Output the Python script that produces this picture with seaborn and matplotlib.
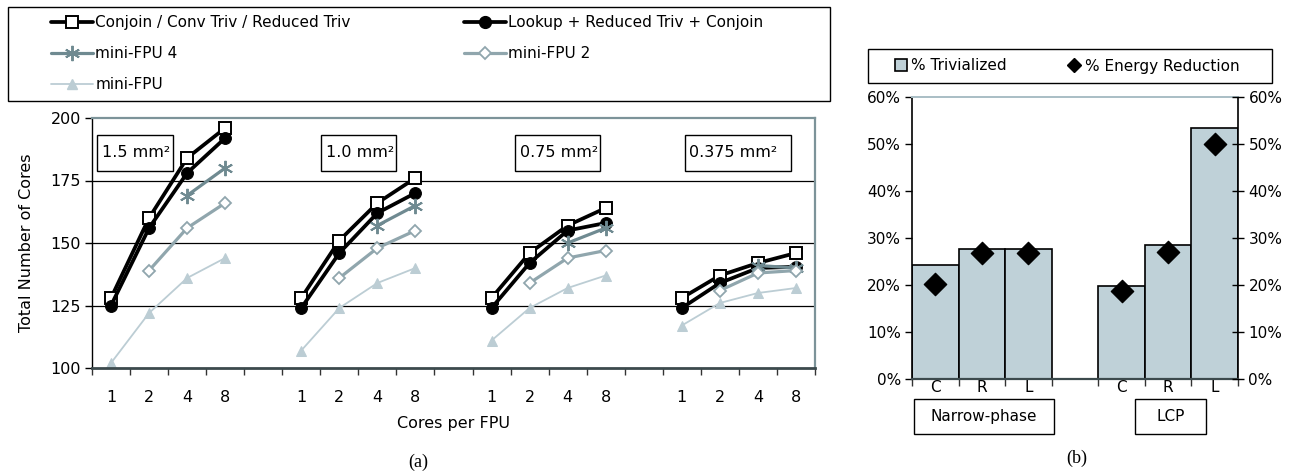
import numpy as np
import pandas as pd
import matplotlib
matplotlib.use("Agg")
import matplotlib.pyplot as plt
from matplotlib.patches import Rectangle
from matplotlib.lines import Line2D
import seaborn as sns

# ---- data: panel (a) ----
areas = ["1.5 mm²", "1.0 mm²", "0.75 mm²", "0.375 mm²"]
cores_per_fpu = ["1", "2", "4", "8"]
series_names = ["Conjoin / Conv Triv / Reduced Triv", "Lookup + Reduced Triv + Conjoin",
                "mini-FPU 4", "mini-FPU 2", "mini-FPU"]
# one row per area, values for 1,2,4,8 cores per FPU (nan = not defined)
conjoin = [[128, 160, 184, 196], [128, 151, 166, 176], [128, 146, 157, 164], [128, 137, 142, 146]]
lookup = [[125, 156, 178, 192], [124, 146, 162, 170], [124, 142, 155, 158], [124, 134, 140, 140.5]]
mini4 = [[np.nan, np.nan, 169, 180], [np.nan, np.nan, 157, 165], [np.nan, np.nan, 150, 156], [np.nan, np.nan, 141, 140]]
mini2 = [[np.nan, 139, 156, 166], [np.nan, 136, 148, 155], [np.nan, 134, 144, 147], [np.nan, 131, 138, 139]]
mini1 = [[102, 122, 136, 144], [107, 124, 134, 140], [111, 124, 132, 137], [117, 126, 130, 132]]

# ---- data: panel (b) ----
phases = ["Narrow-phase", "LCP"]
variants = ["C", "R", "L"]
trivialized = [24.3, 27.7, 27.7, 19.7, 28.6, 53.3]
energy_red = [20.2, 26.8, 26.8, 18.8, 27.1, 50.0]

sns.set_style("white")
plt.rcParams["font.family"] = ["DejaVu Sans"]
plt.rcParams.update({"text.color": "black", "axes.labelcolor": "black",
                     "xtick.color": "black", "ytick.color": "black"})

fig = plt.figure(figsize=(12.92, 4.72), dpi=100)
W, H = 1292, 472


def fig_rect(x0, y0, x1, y1):
    # pixel box -> figure fraction box
    return [x0 / W, 1 - y1 / H, (x1 - x0) / W, (y1 - y0) / H]


def fig_box(x0, y0, x1, y1):
    fig.patches.append(Rectangle((x0 / W, 1 - y1 / H), (x1 - x0) / W, (y1 - y0) / H,
                                 transform=fig.transFigure, facecolor="white",
                                 edgecolor="black", lw=1.0))


# ================= panel (a) =================
ax = fig.add_axes(fig_rect(92, 118, 815, 368))

rows = []
for name, vals in zip(series_names, [conjoin, lookup, mini4, mini2, mini1]):
    for gi, area in enumerate(areas):
        for ci, c in enumerate(cores_per_fpu):
            rows.append(dict(series=name, area=area, slot=gi * 5 + ci, value=vals[gi][ci]))
df = pd.DataFrame(rows).dropna()

star = (6, 2, 0)
styles = {
    series_names[0]: dict(color="black", lw=2.7, marker="s", ms=8.5, mfc="white", mec="black", mew=1.4),
    series_names[1]: dict(color="black", lw=2.7, marker="o", ms=8.5, mfc="black", mec="black"),
    series_names[2]: dict(color="#6f8a91", lw=2.3, marker=star, ms=11, mec="#6f8a91", mew=1.4),
    series_names[3]: dict(color="#90a6ad", lw=2.3, marker="D", ms=6.5, mfc="white", mec="#90a6ad", mew=1.3),
    series_names[4]: dict(color="#bccdd4", lw=1.3, marker="^", ms=6.5, mfc="#bccdd4", mec="#bccdd4"),
}

for name in series_names:
    sub = df[df.series == name]
    sns.lineplot(data=sub, x="slot", y="value", units="area", estimator=None, ax=ax,
                 legend=False, sort=True, **styles[name])

ax.set_xlim(-0.5, 18.5)
ax.set_ylim(100, 200)
ax.set_yticks([100, 125, 150, 175, 200])
for yv in [125, 150, 175]:
    ax.axhline(yv, color="black", lw=0.9, zorder=0)
ax.set_xticks(np.arange(-0.5, 19, 1))
ax.set_xticklabels([])
ax.set_xticks([g * 5 + i for g in range(4) for i in range(4)], minor=True)
ax.set_xticklabels(cores_per_fpu * 4, minor=True)
ax.tick_params(axis="x", which="major", direction="out", length=5, width=1, color="#333333", bottom=True)
ax.tick_params(axis="x", which="minor", length=0, pad=16, labelsize=11.5)
ax.tick_params(axis="y", direction="out", length=5, width=1, left=True, labelsize=11.5, pad=3)
ax.spines["left"].set_color("black")
ax.spines["left"].set_linewidth(1.0)
ax.spines["bottom"].set_color("#3c4a4d")
ax.spines["bottom"].set_linewidth(2.0)
for s in ["top", "right"]:
    ax.spines[s].set_color("#7c9399")
    ax.spines[s].set_linewidth(1.6)
ax.set_xlabel("Cores per FPU", fontsize=11.5, labelpad=8)
ax.set_ylabel("Total Number of Cores", fontsize=11.5, labelpad=12)

# area labels
box_spans = [(-0.37, 1.63), (5.52, 7.5), (10.62, 12.85), (15.08, 17.87)]
for (x0, x1), area in zip(box_spans, areas):
    ax.add_patch(Rectangle((x0, 179), x1 - x0, 14.3, facecolor="white", edgecolor="black",
                           lw=1.0, zorder=4))
    ax.text(x0 + 0.12, 186.2, area, fontsize=11.5, va="center", ha="left", zorder=5)

# legend (2 columns, filled column-first)
handles = [Line2D([], [], **styles[n]) for n in series_names]
order = [0, 2, 4, 1, 3]
fig_box(8, 7, 830, 101)
fig.legend([handles[i] for i in order], [series_names[i] for i in order], ncol=2, frameon=False,
           loc="upper left", bbox_to_anchor=(51 / W, 1 - 15 / H), borderpad=0,
           fontsize=11, handlelength=2.75, handletextpad=0.15, labelspacing=1.05,
           columnspacing=7.4, borderaxespad=0)

# ================= panel (b) =================
bx = fig.add_axes(fig_rect(912, 97, 1238, 379))
slot_order = [f"{phases[0]}-{v}" for v in variants] + ["gap"] + [f"{phases[1]}-{v}" for v in variants]
bar_keys = [f"{p}-{v}" for p in phases for v in variants]
bdf = pd.DataFrame(dict(key=bar_keys, triv=trivialized, energy=energy_red))
bdf["pos"] = [slot_order.index(k) for k in bdf.key]

sns.barplot(data=bdf, x="key", y="triv", order=slot_order, width=1.0, color="#bfd1d8",
            edgecolor="black", linewidth=1.2, saturation=1, ax=bx)
sns.scatterplot(data=bdf, x="pos", y="energy", marker="D", s=130, color="black",
                edgecolor="black", ax=bx, zorder=5, legend=False)

bx.set_xlim(-0.5, 6.5)
bx.set_ylim(0, 60)
bx.set_yticks(range(0, 61, 10))
bx.set_yticklabels([f"{v}%" for v in range(0, 61, 10)])
bx.set_xticks(np.arange(-0.5, 7, 1))
bx.set_xticklabels([])
bx.set_xticks(bdf.pos, minor=True)
bx.set_xticklabels(variants * 2, minor=True)
bx.tick_params(axis="x", which="major", direction="out", length=5, width=1, bottom=True, color="#333333")
bx.tick_params(axis="x", which="minor", length=0, pad=1, labelsize=11)
bx.tick_params(axis="y", direction="out", length=5, width=1, left=True, labelsize=11, pad=3)
bx.set_xlabel("")
bx.set_ylabel("")
bx.spines["left"].set_color("black")
bx.spines["left"].set_linewidth(1.2)
bx.spines["right"].set_color("black")
bx.spines["right"].set_linewidth(1.2)
bx.spines["bottom"].set_color("#3c4a4d")
bx.spines["bottom"].set_linewidth(1.6)
bx.spines["top"].set_color("#a9bec5")
bx.spines["top"].set_linewidth(1.4)

tx = bx.twinx()
tx.set_ylim(0, 60)
tx.set_yticks(range(0, 61, 10))
tx.set_yticklabels([f"{v}%" for v in range(0, 61, 10)])
tx.tick_params(axis="y", direction="inout", length=9, width=1, right=True, labelsize=11, pad=3)
for s in tx.spines.values():
    s.set_visible(False)
tx.grid(False)

# group boxes under the bars
for (x0, x1), name in zip([(914, 1054), (1135, 1206)], phases):
    fig_box(x0, 399, x1, 434)
    fig.text((x0 + x1) / 2 / W, 1 - 416.5 / H, name, ha="center", va="center", fontsize=11)

fig_box(868, 49, 1272, 83)
leg_h = [Line2D([], [], ls="none", marker="s", ms=8, mfc="#bfd1d8", mec="black", mew=1.2),
         Line2D([], [], ls="none", marker="D", ms=7, mfc="black", mec="black")]
fig.legend(leg_h, ["% Trivialized", "% Energy Reduction"], ncol=2, frameon=False,
           loc="center left", bbox_to_anchor=(893 / W, 1 - 66 / H), borderpad=0,
           fontsize=11, handlelength=1.0, handletextpad=0.2, columnspacing=3.9, borderaxespad=0)

# captions
fig.text(418 / W, 1 - 462 / H, "(a)", ha="center", va="center", fontsize=13,
         family=["Liberation Serif", "DejaVu Serif"])
fig.text(1077 / W, 1 - 458 / H, "(b)", ha="center", va="center", fontsize=13,
         family=["Liberation Serif", "DejaVu Serif"])

fig.savefig("out.png", dpi=100)
